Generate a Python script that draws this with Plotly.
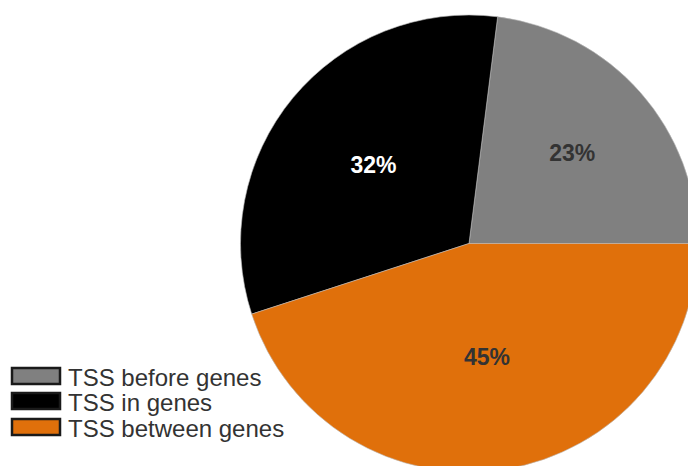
import plotly.graph_objects as go

categories = ["TSS before genes", "TSS in genes", "TSS between genes"]
values = [23, 32, 45]
colors = ["#808080", "#000000", "#E0700B"]
label_colors = ["#333333", "#FFFFFF", "#333333"]

W, H = 698, 472
FONT = "Liberation Sans, Arial, sans-serif"

def px(x):
    return x / W

def py(y):
    return 1 - y / H

# first slice must start at 3 o'clock and run counterclockwise
start_rot = 90 - 360 * values[0] / sum(values)

fig = go.Figure()
fig.add_trace(go.Pie(
    labels=categories,
    values=values,
    sort=False,
    direction="counterclockwise",
    rotation=start_rot,
    marker=dict(colors=colors, line=dict(color="#BBBBBB", width=0.6)),
    textinfo="percent",
    texttemplate="%{percent:.0%}",
    textposition="inside",
    insidetextorientation="horizontal",
    textfont=dict(family=FONT, size=23, color=label_colors, weight="bold"),
    domain=dict(x=[px(240), 1], y=[0, py(15)]),
    showlegend=False,
    hoverinfo="label+percent",
))

# legend (swatches + labels)
legend_tops = [368, 393, 419]
for cat, col, top in zip(categories, colors, legend_tops):
    fig.add_shape(type="rect", xref="paper", yref="paper",
                  x0=px(12), x1=px(60), y0=py(top), y1=py(top + 16),
                  fillcolor=col, line=dict(color="#1a1a1a", width=2.5))
    fig.add_annotation(xref="paper", yref="paper", x=px(66), y=py(top + 9),
                       xanchor="left", yanchor="middle", showarrow=False,
                       text=cat, font=dict(family=FONT, size=24, color="#333333"))

fig.update_layout(
    width=W, height=H,
    margin=dict(l=0, r=0, t=0, b=0),
    paper_bgcolor="white",
    plot_bgcolor="white",
)

fig.write_html("out.html", post_script="document.body.style.margin='0';document.body.style.overflow='hidden';document.documentElement.style.overflow='hidden';")
